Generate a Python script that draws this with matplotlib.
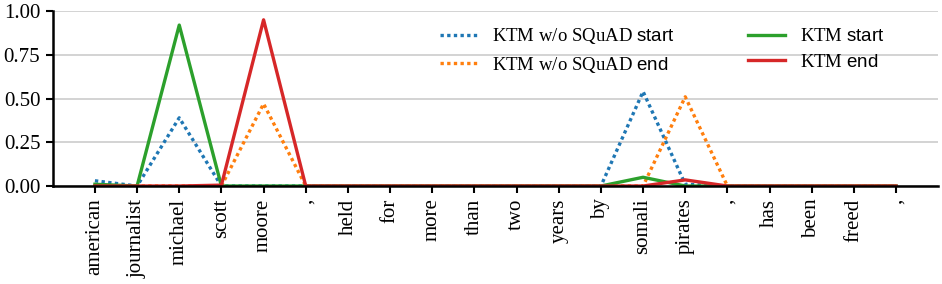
import numpy as np
import matplotlib
matplotlib.use("Agg")
import matplotlib.pyplot as plt

# token-level start/end probabilities
tokens = ["american", "journalist", "michael", "scott", "moore", ",", "held", "for",
          "more", "than", "two", "years", "by", "somali", "pirates", ",", "has",
          "been", "freed", ","]

nosquad_start = [0.03, 0.0, 0.39, 0.0, 0.0, 0.0, 0.0, 0.0, 0.0, 0.0,
                 0.0, 0.0, 0.0, 0.54, 0.01, 0.0, 0.0, 0.0, 0.0, 0.0]
nosquad_end = [0.0, 0.0, 0.0, 0.0, 0.47, 0.0, 0.0, 0.0, 0.0, 0.0,
               0.0, 0.0, 0.0, 0.0, 0.51, 0.0, 0.0, 0.0, 0.0, 0.0]
ktm_start = [0.01, 0.0, 0.92, 0.0, 0.0, 0.0, 0.0, 0.0, 0.0, 0.0,
             0.0, 0.0, 0.0, 0.05, 0.0, 0.0, 0.0, 0.0, 0.0, 0.0]
ktm_end = [0.0, 0.0, 0.0, 0.005, 0.95, 0.0, 0.0, 0.0, 0.0, 0.0,
           0.0, 0.0, 0.0, 0.0, 0.035, 0.0, 0.0, 0.0, 0.0, 0.0]

plt.rcParams['font.family'] = ['Liberation Serif', 'DejaVu Serif']
plt.rcParams['mathtext.fontset'] = 'custom'
plt.rcParams['mathtext.rm'] = 'Liberation Serif'
plt.rcParams['mathtext.sf'] = 'Liberation Sans'

fig = plt.figure(figsize=(9.42, 2.84), dpi=100)
ax = fig.add_axes([0.056, 0.345, 0.94, 0.616])

x = np.arange(len(tokens))
ax.plot(x, nosquad_start, color='#1f77b4', lw=2.4, dashes=(1, 1),
        label=r"KTM w/o SQuAD $\mathsf{start}$")
ax.plot(x, nosquad_end, color='#ff7f0e', lw=2.4, dashes=(1, 1),
        label=r"KTM w/o SQuAD $\mathsf{end}$")
ax.plot(x, ktm_start, color='#2ca02c', lw=2.4, label=r"KTM $\mathsf{start}$")
ax.plot(x, ktm_end, color='#d62728', lw=2.4, label=r"KTM $\mathsf{end}$")

ax.set_xlim(-1, len(tokens))
ax.set_ylim(0, 1.0)
ax.set_yticks([0, 0.25, 0.5, 0.75, 1.0])
ax.set_yticklabels(["0.00", "0.25", "0.50", "0.75", "1.00"])
ax.set_xticks(x)
ax.set_xticklabels(tokens, rotation=90)
ax.tick_params(labelsize=15, length=5, width=1.5, pad=4)

ax.yaxis.grid(True, color='#cccccc', lw=1.2)
ax.set_axisbelow(True)
for s in ['top', 'right']:
    ax.spines[s].set_visible(False)
for s in ['left', 'bottom']:
    ax.spines[s].set_linewidth(1.8)

ax.legend(ncol=2, frameon=False, fontsize=13.5, loc='upper right',
          bbox_to_anchor=(0.959, 1.01), handlelength=2.0, handletextpad=0.8,
          columnspacing=3.9, labelspacing=0.45)

fig.savefig("out.png", dpi=100)
